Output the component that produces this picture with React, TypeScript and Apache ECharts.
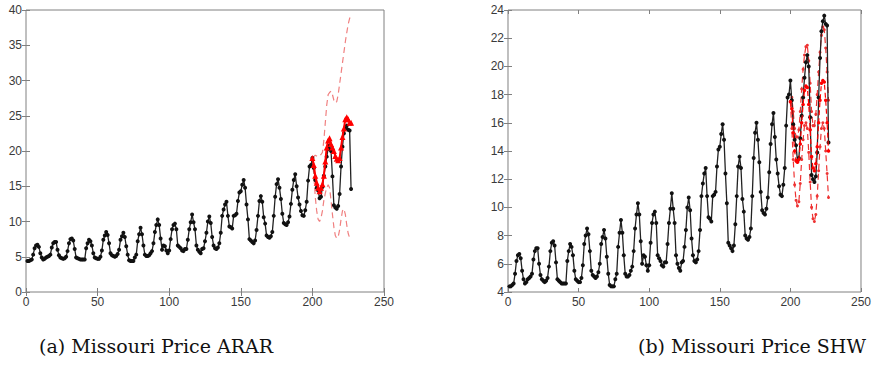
import React, { useEffect, useRef } from "react";
import * as echarts from "echarts";

// Observed monthly price (same series in both panels), x = 1..227
const actual: number[] = [
  4.4, 4.4, 4.5, 4.6, 5.3, 6.2, 6.6, 6.7, 6.4, 5.5, 4.9, 4.6,
  4.7, 4.9, 5.0, 5.1, 5.3, 6.3, 6.9, 7.1, 7.1, 6.0, 5.2, 4.9,
  4.8, 4.7, 4.8, 5.0, 5.8, 6.9, 7.5, 7.6, 7.3, 6.1, 4.9, 4.8,
  4.7, 4.6, 4.6, 4.6, 4.6, 6.2, 6.9, 7.4, 7.2, 6.6, 5.5, 4.9,
  4.8, 4.7, 4.7, 5.0, 5.9, 7.4, 8.0, 8.5, 8.1, 6.9, 5.5, 5.2,
  5.1, 5.0, 5.1, 5.4, 6.0, 7.4, 7.9, 8.4, 7.8, 6.5, 5.3, 4.5,
  4.4, 4.4, 4.4, 4.9, 5.3, 7.2, 8.2, 9.1, 8.2, 6.6, 5.3, 5.1,
  5.1, 5.2, 5.5, 5.8, 6.9, 8.5, 9.5, 10.3, 9.5, 7.6, 6.0, 6.6,
  6.5, 5.9, 5.5, 5.9, 7.5, 8.9, 9.5, 9.7, 8.9, 6.6, 6.4, 6.2,
  5.9, 5.8, 6.1, 6.1, 7.4, 8.9, 9.9, 11.0, 9.9, 8.9, 6.6, 6.0,
  5.7, 5.5, 6.1, 6.2, 7.2, 8.4, 10.0, 10.7, 9.8, 7.8, 6.6, 6.2,
  6.1, 6.3, 6.9, 8.4, 10.8, 11.7, 12.4, 12.8, 10.8, 9.3, 9.2, 9.0,
  10.8, 10.9, 11.1, 12.9, 14.1, 14.3, 15.2, 15.9, 14.8, 12.4, 10.3, 7.5,
  7.3, 7.1, 6.9, 7.3, 8.8, 10.8, 12.9, 13.6, 12.8, 10.6, 9.7, 8.0,
  7.8, 7.7, 7.9, 8.5, 10.8, 13.5, 15.3, 16.0, 14.8, 13.2, 11.1, 9.8,
  9.6, 9.5, 9.9, 10.7, 12.5, 14.5, 15.9, 16.7, 15.0, 13.4, 12.4, 11.5,
  10.9, 10.8, 11.6, 12.8, 15.8, 17.8, 18.0, 19.0, 17.6, 15.9, 14.8, 14.4,
  13.3, 13.5, 14.9, 16.5, 17.8, 19.2, 20.3, 20.8, 20.0, 16.4, 12.3, 12.0,
  11.8, 12.2, 13.9, 17.8, 20.6, 22.5, 23.2, 23.6, 23.0, 22.9, 14.6,
];

// Forecast horizon starts at x = 200
const forecastStart = 200;

const ararForecast: number[] = [
  19.0, 18.0, 16.5, 15.5, 14.8, 14.3, 14.8, 15.3, 16.5, 18.5,
  20.5, 21.5, 21.8, 21.0, 20.5, 20.0, 19.3, 18.9, 18.7, 19.0,
  20.5, 22.0, 23.2, 24.5, 24.8, 24.5, 24.0, 24.0,
];
const ararUpper: number[] = [
  19.0, 19.2, 19.4, 19.3, 19.2, 19.3, 19.5, 19.8, 21.5, 24.0,
  26.5, 28.0, 28.3, 28.5, 28.0, 27.2, 26.8, 27.0, 28.0, 29.5,
  31.0, 32.5, 34.0, 35.5, 36.8, 38.0, 38.8, 39.3,
];
const ararLower: number[] = [
  19.0, 16.5, 13.5, 11.5, 10.3, 10.0, 10.5, 11.5, 13.0, 14.0,
  14.8, 15.2, 14.8, 13.0, 11.0, 9.2, 8.0, 7.6, 7.8, 8.8,
  10.3, 11.5, 11.8, 11.0, 9.5, 8.3, 7.7, 7.7,
];

const shwForecast: number[] = [
  17.5, 17.0, 15.3, 14.0, 13.3, 13.2, 13.4, 14.5, 16.0, 17.3,
  18.3, 18.6, 18.5, 17.3, 15.5, 13.6, 12.8, 12.6, 13.1, 14.3,
  16.0, 17.6, 18.8, 19.0, 18.9, 17.6, 16.0, 14.0,
];
const shwUpper: number[] = [
  17.5, 17.8, 16.8, 15.6, 15.0, 15.0, 15.5, 16.8, 18.4, 19.8,
  20.8, 21.4, 21.5, 20.4, 18.8, 16.8, 15.8, 15.8, 16.6, 18.0,
  19.6, 21.0, 22.2, 22.8, 22.6, 21.3, 19.6, 17.6,
];
const shwLower: number[] = [
  17.5, 15.6, 13.4, 11.6, 10.5, 10.1, 10.4, 11.7, 13.4, 14.8,
  15.8, 16.0, 15.6, 13.9, 11.8, 10.0, 9.2, 9.0, 9.5, 10.8,
  12.6, 14.3, 15.6, 16.0, 15.6, 14.0, 12.4, 10.7,
];

const captions: string[] = ["(a) Missouri Price ARAR", "(b) Missouri Price SHW"];

const toPairs = (arr: number[], start: number) => arr.map((v, i) => [start + i, v]);

export default function App() {
  const ref = useRef<HTMLDivElement>(null);
  useEffect(() => {
    if (!ref.current) return;
    const chart = echarts.init(ref.current, undefined, { renderer: "svg" });
    const frame = "#808080";
    const labelColor = "#3a3a3a";
    const gridBase = {
      top: 10,
      width: 358,
      height: 282,
      show: true,
      borderColor: frame,
      borderWidth: 1,
      backgroundColor: "#fff",
    };
    const xAx = (g: number, pos: "bottom" | "top") => ({
      type: "value",
      gridIndex: g,
      position: pos,
      min: 0,
      max: 250,
      interval: 50,
      axisLine: { show: false },
      axisTick: { show: true, inside: true, length: 4, lineStyle: { color: frame } },
      axisLabel: {
        show: pos === "bottom",
        color: labelColor,
        fontSize: 12,
        fontFamily: "Liberation Sans",
        margin: 4,
      },
      splitLine: { show: false },
    });
    const yAx = (g: number, pos: "left" | "right", min: number, max: number, interval: number) => ({
      type: "value",
      gridIndex: g,
      position: pos,
      min,
      max,
      interval,
      axisLine: { show: false },
      axisTick: { show: true, inside: true, length: 4, lineStyle: { color: frame } },
      axisLabel: {
        show: pos === "left",
        color: labelColor,
        fontSize: 12,
        fontFamily: "Liberation Sans",
        margin: 4,
      },
      splitLine: { show: false },
    });

    const blackSeries = (xi: number, yi: number) => ({
      type: "line",
      xAxisIndex: xi,
      yAxisIndex: yi,
      data: toPairs(actual, 1),
      symbol: "circle",
      symbolSize: 4,
      itemStyle: { color: "#111" },
      lineStyle: { color: "#222", width: 1.3 },
      z: 3,
    });
    const band = (xi: number, yi: number, arr: number[], color: string) => ({
      type: "line",
      xAxisIndex: xi,
      yAxisIndex: yi,
      data: toPairs(arr, forecastStart),
      symbol: "none",
      lineStyle: { color, width: 1.2, type: [6, 4] },
      z: 2,
    });

    chart.setOption({
      animation: false,
      backgroundColor: "#fff",
      grid: [
        { ...gridBase, left: 26 },
        { ...gridBase, left: 508 },
      ],
      xAxis: [xAx(0, "bottom"), xAx(1, "bottom"), xAx(0, "top"), xAx(1, "top")],
      yAxis: [
        yAx(0, "left", 0, 40, 5),
        yAx(1, "left", 4, 24, 2),
        yAx(0, "right", 0, 40, 5),
        yAx(1, "right", 4, 24, 2),
      ],
      series: [
        band(0, 0, ararUpper, "#f08080"),
        band(0, 0, ararLower, "#f08080"),
        blackSeries(0, 0),
        {
          type: "line",
          xAxisIndex: 0,
          yAxisIndex: 0,
          data: toPairs(ararForecast, forecastStart),
          symbol: "triangle",
          symbolSize: 6,
          itemStyle: { color: "#ff0000" },
          lineStyle: { color: "#ff0000", width: 2 },
          z: 4,
        },
        blackSeries(1, 1),
        {
          ...band(1, 1, shwUpper, "#ee3333"),
          symbol: "circle",
          symbolSize: 3,
          itemStyle: { color: "#ee3333" },
        },
        {
          ...band(1, 1, shwLower, "#ee3333"),
          symbol: "circle",
          symbolSize: 3,
          itemStyle: { color: "#ee3333" },
        },
        {
          type: "line",
          xAxisIndex: 1,
          yAxisIndex: 1,
          data: toPairs(shwForecast, forecastStart),
          symbol: "circle",
          symbolSize: 3.5,
          itemStyle: { color: "#ff0000" },
          lineStyle: { color: "#ff0000", width: 1.2, type: [5, 3] },
          z: 4,
        },
      ],
      graphic: [
        {
          type: "text",
          x: 156,
          y: 346,
          style: {
            text: captions[0],
            fill: "#111",
            fontSize: 19,
            fontFamily: "DejaVu Serif",
            textAlign: "center",
            textVerticalAlign: "middle",
          },
        },
        {
          type: "text",
          x: 752,
          y: 346,
          style: {
            text: captions[1],
            fill: "#111",
            fontSize: 19,
            fontFamily: "DejaVu Serif",
            textAlign: "center",
            textVerticalAlign: "middle",
          },
        },
      ],
    });
    return () => chart.dispose();
  }, []);
  return (
    <div
      ref={ref}
      style={{ position: "fixed", left: 0, top: 0, width: 874, height: 377, background: "#fff" }}
    />
  );
}
